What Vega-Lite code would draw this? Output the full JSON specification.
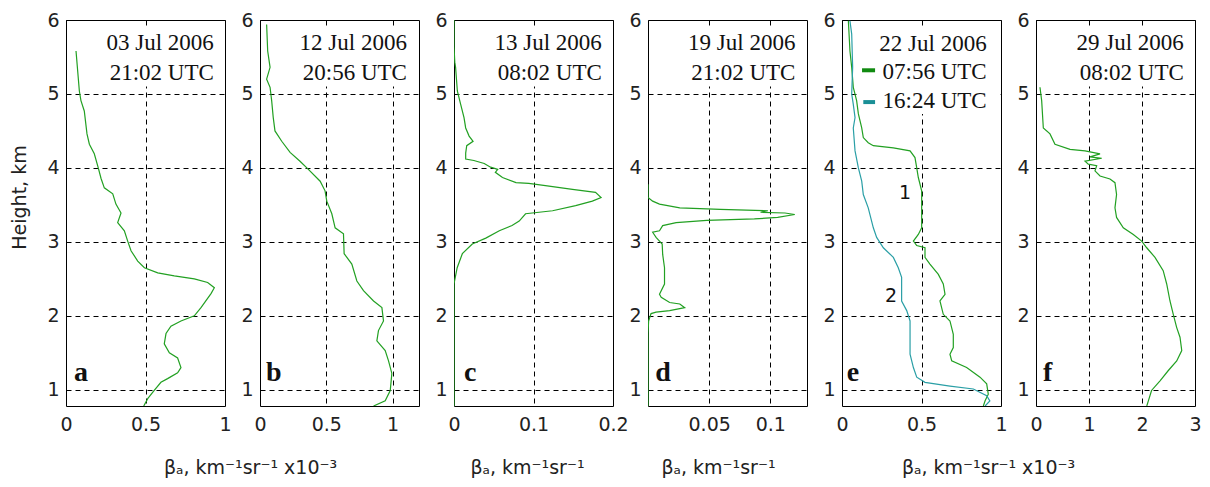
{
"$schema": "https://vega.github.io/schema/vega-lite/v6.json",
"padding": {"left": 9, "top": 10, "right": 5, "bottom": 5},
"background": "white",
"data": {"values": [
{"p":"a","s":"g","x":0.063,"h":5.58},{"p":"a","s":"g","x":0.084,"h":5.04},{"p":"a","s":"g","x":0.094,"h":4.91},{"p":"a","s":"g","x":0.115,"h":4.77},{"p":"a","s":"g","x":0.132,"h":4.46},{"p":"a","s":"g","x":0.147,"h":4.32},{"p":"a","s":"g","x":0.178,"h":4.19},{"p":"a","s":"g","x":0.203,"h":4.0},{"p":"a","s":"g","x":0.22,"h":3.86},{"p":"a","s":"g","x":0.241,"h":3.73},{"p":"a","s":"g","x":0.294,"h":3.65},{"p":"a","s":"g","x":0.314,"h":3.51},{"p":"a","s":"g","x":0.346,"h":3.39},{"p":"a","s":"g","x":0.325,"h":3.26},{"p":"a","s":"g","x":0.367,"h":3.15},{"p":"a","s":"g","x":0.388,"h":3.01},{"p":"a","s":"g","x":0.409,"h":2.88},{"p":"a","s":"g","x":0.451,"h":2.74},{"p":"a","s":"g","x":0.493,"h":2.65},{"p":"a","s":"g","x":0.577,"h":2.58},{"p":"a","s":"g","x":0.681,"h":2.54},{"p":"a","s":"g","x":0.807,"h":2.5},{"p":"a","s":"g","x":0.891,"h":2.45},{"p":"a","s":"g","x":0.933,"h":2.38},{"p":"a","s":"g","x":0.912,"h":2.3},{"p":"a","s":"g","x":0.849,"h":2.11},{"p":"a","s":"g","x":0.807,"h":2.0},{"p":"a","s":"g","x":0.723,"h":1.93},{"p":"a","s":"g","x":0.66,"h":1.86},{"p":"a","s":"g","x":0.629,"h":1.76},{"p":"a","s":"g","x":0.618,"h":1.62},{"p":"a","s":"g","x":0.65,"h":1.5},{"p":"a","s":"g","x":0.702,"h":1.43},{"p":"a","s":"g","x":0.723,"h":1.3},{"p":"a","s":"g","x":0.702,"h":1.23},{"p":"a","s":"g","x":0.639,"h":1.15},{"p":"a","s":"g","x":0.597,"h":1.1},{"p":"a","s":"g","x":0.555,"h":0.99},{"p":"a","s":"g","x":0.514,"h":0.88},{"p":"a","s":"g","x":0.489,"h":0.78},
{"p":"b","s":"g","x":0.05,"h":5.94},{"p":"b","s":"g","x":0.058,"h":5.58},{"p":"b","s":"g","x":0.076,"h":5.36},{"p":"b","s":"g","x":0.05,"h":5.2},{"p":"b","s":"g","x":0.076,"h":5.09},{"p":"b","s":"g","x":0.088,"h":4.91},{"p":"b","s":"g","x":0.1,"h":4.68},{"p":"b","s":"g","x":0.113,"h":4.5},{"p":"b","s":"g","x":0.164,"h":4.36},{"p":"b","s":"g","x":0.227,"h":4.21},{"p":"b","s":"g","x":0.302,"h":4.09},{"p":"b","s":"g","x":0.365,"h":3.98},{"p":"b","s":"g","x":0.454,"h":3.82},{"p":"b","s":"g","x":0.491,"h":3.69},{"p":"b","s":"g","x":0.504,"h":3.55},{"p":"b","s":"g","x":0.542,"h":3.38},{"p":"b","s":"g","x":0.567,"h":3.19},{"p":"b","s":"g","x":0.63,"h":3.11},{"p":"b","s":"g","x":0.635,"h":2.84},{"p":"b","s":"g","x":0.693,"h":2.7},{"p":"b","s":"g","x":0.731,"h":2.47},{"p":"b","s":"g","x":0.781,"h":2.34},{"p":"b","s":"g","x":0.857,"h":2.2},{"p":"b","s":"g","x":0.92,"h":2.11},{"p":"b","s":"g","x":0.932,"h":1.93},{"p":"b","s":"g","x":0.894,"h":1.8},{"p":"b","s":"g","x":0.882,"h":1.66},{"p":"b","s":"g","x":0.945,"h":1.53},{"p":"b","s":"g","x":0.97,"h":1.39},{"p":"b","s":"g","x":0.995,"h":1.22},{"p":"b","s":"g","x":0.983,"h":0.99},{"p":"b","s":"g","x":0.945,"h":0.85},{"p":"b","s":"g","x":0.857,"h":0.78},
{"p":"c","s":"g","x":0,"h":6.0},{"p":"c","s":"g","x":0,"h":5.64},{"p":"c","s":"g","x":0.001,"h":5.43},{"p":"c","s":"g","x":0.002,"h":5.36},{"p":"c","s":"g","x":0.0042,"h":5.04},{"p":"c","s":"g","x":0.0084,"h":4.86},{"p":"c","s":"g","x":0.0126,"h":4.68},{"p":"c","s":"g","x":0.0147,"h":4.54},{"p":"c","s":"g","x":0.019,"h":4.43},{"p":"c","s":"g","x":0.024,"h":4.36},{"p":"c","s":"g","x":0.016,"h":4.3},{"p":"c","s":"g","x":0.0147,"h":4.2},{"p":"c","s":"g","x":0.0147,"h":4.12},{"p":"c","s":"g","x":0.025,"h":4.1},{"p":"c","s":"g","x":0.038,"h":4.06},{"p":"c","s":"g","x":0.046,"h":4.01},{"p":"c","s":"g","x":0.055,"h":3.98},{"p":"c","s":"g","x":0.052,"h":3.94},{"p":"c","s":"g","x":0.061,"h":3.87},{"p":"c","s":"g","x":0.078,"h":3.8},{"p":"c","s":"g","x":0.094,"h":3.79},{"p":"c","s":"g","x":0.115,"h":3.76},{"p":"c","s":"g","x":0.149,"h":3.71},{"p":"c","s":"g","x":0.178,"h":3.67},{"p":"c","s":"g","x":0.185,"h":3.6},{"p":"c","s":"g","x":0.174,"h":3.55},{"p":"c","s":"g","x":0.153,"h":3.49},{"p":"c","s":"g","x":0.124,"h":3.42},{"p":"c","s":"g","x":0.09,"h":3.38},{"p":"c","s":"g","x":0.082,"h":3.28},{"p":"c","s":"g","x":0.073,"h":3.22},{"p":"c","s":"g","x":0.057,"h":3.15},{"p":"c","s":"g","x":0.04,"h":3.05},{"p":"c","s":"g","x":0.023,"h":2.97},{"p":"c","s":"g","x":0.0105,"h":2.84},{"p":"c","s":"g","x":0.004,"h":2.65},{"p":"c","s":"g","x":0,"h":2.43},{"p":"c","s":"g","x":0,"h":0.78},
{"p":"d","s":"g","x":0,"h":3.78},{"p":"d","s":"g","x":0,"h":3.6},{"p":"d","s":"g","x":0.0038,"h":3.55},{"p":"d","s":"g","x":0.0094,"h":3.51},{"p":"d","s":"g","x":0.026,"h":3.46},{"p":"d","s":"g","x":0.059,"h":3.44},{"p":"d","s":"g","x":0.098,"h":3.42},{"p":"d","s":"g","x":0.092,"h":3.4},{"p":"d","s":"g","x":0.112,"h":3.39},{"p":"d","s":"g","x":0.12,"h":3.37},{"p":"d","s":"g","x":0.106,"h":3.33},{"p":"d","s":"g","x":0.087,"h":3.31},{"p":"d","s":"g","x":0.048,"h":3.29},{"p":"d","s":"g","x":0.023,"h":3.26},{"p":"d","s":"g","x":0.012,"h":3.22},{"p":"d","s":"g","x":0.0094,"h":3.15},{"p":"d","s":"g","x":0.0038,"h":3.13},{"p":"d","s":"g","x":0.0066,"h":3.06},{"p":"d","s":"g","x":0.0094,"h":3.01},{"p":"d","s":"g","x":0.0116,"h":2.97},{"p":"d","s":"g","x":0.012,"h":2.83},{"p":"d","s":"g","x":0.0135,"h":2.65},{"p":"d","s":"g","x":0.0135,"h":2.43},{"p":"d","s":"g","x":0.0094,"h":2.29},{"p":"d","s":"g","x":0.0108,"h":2.25},{"p":"d","s":"g","x":0.0177,"h":2.18},{"p":"d","s":"g","x":0.026,"h":2.16},{"p":"d","s":"g","x":0.03,"h":2.11},{"p":"d","s":"g","x":0.0177,"h":2.07},{"p":"d","s":"g","x":0.0066,"h":2.05},{"p":"d","s":"g","x":0.0025,"h":2.03},{"p":"d","s":"g","x":0.0005,"h":1.93},{"p":"d","s":"g","x":0,"h":1.76},{"p":"d","s":"g","x":0,"h":0.78},
{"p":"e","s":"07:56 UTC","x":0.04,"h":5.99},{"p":"e","s":"07:56 UTC","x":0.05,"h":5.58},{"p":"e","s":"07:56 UTC","x":0.061,"h":5.36},{"p":"e","s":"07:56 UTC","x":0.071,"h":5.09},{"p":"e","s":"07:56 UTC","x":0.092,"h":4.91},{"p":"e","s":"07:56 UTC","x":0.103,"h":4.73},{"p":"e","s":"07:56 UTC","x":0.124,"h":4.54},{"p":"e","s":"07:56 UTC","x":0.134,"h":4.41},{"p":"e","s":"07:56 UTC","x":0.165,"h":4.34},{"p":"e","s":"07:56 UTC","x":0.197,"h":4.3},{"p":"e","s":"07:56 UTC","x":0.323,"h":4.27},{"p":"e","s":"07:56 UTC","x":0.428,"h":4.23},{"p":"e","s":"07:56 UTC","x":0.459,"h":4.14},{"p":"e","s":"07:56 UTC","x":0.47,"h":4.0},{"p":"e","s":"07:56 UTC","x":0.48,"h":3.87},{"p":"e","s":"07:56 UTC","x":0.501,"h":3.69},{"p":"e","s":"07:56 UTC","x":0.501,"h":3.46},{"p":"e","s":"07:56 UTC","x":0.501,"h":3.19},{"p":"e","s":"07:56 UTC","x":0.48,"h":3.1},{"p":"e","s":"07:56 UTC","x":0.449,"h":3.01},{"p":"e","s":"07:56 UTC","x":0.47,"h":2.95},{"p":"e","s":"07:56 UTC","x":0.522,"h":2.92},{"p":"e","s":"07:56 UTC","x":0.522,"h":2.79},{"p":"e","s":"07:56 UTC","x":0.553,"h":2.7},{"p":"e","s":"07:56 UTC","x":0.606,"h":2.56},{"p":"e","s":"07:56 UTC","x":0.637,"h":2.43},{"p":"e","s":"07:56 UTC","x":0.648,"h":2.29},{"p":"e","s":"07:56 UTC","x":0.616,"h":2.2},{"p":"e","s":"07:56 UTC","x":0.637,"h":2.02},{"p":"e","s":"07:56 UTC","x":0.679,"h":1.93},{"p":"e","s":"07:56 UTC","x":0.7,"h":1.75},{"p":"e","s":"07:56 UTC","x":0.7,"h":1.57},{"p":"e","s":"07:56 UTC","x":0.679,"h":1.48},{"p":"e","s":"07:56 UTC","x":0.69,"h":1.39},{"p":"e","s":"07:56 UTC","x":0.784,"h":1.3},{"p":"e","s":"07:56 UTC","x":0.868,"h":1.17},{"p":"e","s":"07:56 UTC","x":0.91,"h":1.08},{"p":"e","s":"07:56 UTC","x":0.92,"h":0.94},{"p":"e","s":"07:56 UTC","x":0.9,"h":0.85},{"p":"e","s":"07:56 UTC","x":0.889,"h":0.78},
{"p":"e","s":"16:24 UTC","x":0.05,"h":5.99},{"p":"e","s":"16:24 UTC","x":0.061,"h":5.81},{"p":"e","s":"16:24 UTC","x":0.067,"h":5.36},{"p":"e","s":"16:24 UTC","x":0.061,"h":5.0},{"p":"e","s":"16:24 UTC","x":0.071,"h":4.86},{"p":"e","s":"16:24 UTC","x":0.082,"h":4.68},{"p":"e","s":"16:24 UTC","x":0.071,"h":4.54},{"p":"e","s":"16:24 UTC","x":0.082,"h":4.23},{"p":"e","s":"16:24 UTC","x":0.103,"h":4.0},{"p":"e","s":"16:24 UTC","x":0.124,"h":3.82},{"p":"e","s":"16:24 UTC","x":0.134,"h":3.64},{"p":"e","s":"16:24 UTC","x":0.165,"h":3.46},{"p":"e","s":"16:24 UTC","x":0.197,"h":3.19},{"p":"e","s":"16:24 UTC","x":0.218,"h":3.06},{"p":"e","s":"16:24 UTC","x":0.26,"h":2.92},{"p":"e","s":"16:24 UTC","x":0.323,"h":2.79},{"p":"e","s":"16:24 UTC","x":0.354,"h":2.65},{"p":"e","s":"16:24 UTC","x":0.375,"h":2.52},{"p":"e","s":"16:24 UTC","x":0.375,"h":2.2},{"p":"e","s":"16:24 UTC","x":0.407,"h":2.07},{"p":"e","s":"16:24 UTC","x":0.428,"h":1.93},{"p":"e","s":"16:24 UTC","x":0.428,"h":1.71},{"p":"e","s":"16:24 UTC","x":0.428,"h":1.48},{"p":"e","s":"16:24 UTC","x":0.449,"h":1.3},{"p":"e","s":"16:24 UTC","x":0.47,"h":1.17},{"p":"e","s":"16:24 UTC","x":0.522,"h":1.1},{"p":"e","s":"16:24 UTC","x":0.679,"h":1.05},{"p":"e","s":"16:24 UTC","x":0.826,"h":1.01},{"p":"e","s":"16:24 UTC","x":0.91,"h":0.92},{"p":"e","s":"16:24 UTC","x":0.93,"h":0.85},{"p":"e","s":"16:24 UTC","x":0.9,"h":0.78},
{"p":"f","s":"g","x":0.075,"h":5.09},{"p":"f","s":"g","x":0.107,"h":4.91},{"p":"f","s":"g","x":0.138,"h":4.54},{"p":"f","s":"g","x":0.264,"h":4.46},{"p":"f","s":"g","x":0.358,"h":4.32},{"p":"f","s":"g","x":0.642,"h":4.25},{"p":"f","s":"g","x":0.925,"h":4.23},{"p":"f","s":"g","x":1.208,"h":4.19},{"p":"f","s":"g","x":1.019,"h":4.15},{"p":"f","s":"g","x":1.24,"h":4.13},{"p":"f","s":"g","x":0.925,"h":4.09},{"p":"f","s":"g","x":0.987,"h":4.05},{"p":"f","s":"g","x":1.145,"h":4.03},{"p":"f","s":"g","x":1.113,"h":3.96},{"p":"f","s":"g","x":1.208,"h":3.89},{"p":"f","s":"g","x":1.396,"h":3.85},{"p":"f","s":"g","x":1.49,"h":3.8},{"p":"f","s":"g","x":1.52,"h":3.64},{"p":"f","s":"g","x":1.49,"h":3.46},{"p":"f","s":"g","x":1.52,"h":3.33},{"p":"f","s":"g","x":1.647,"h":3.19},{"p":"f","s":"g","x":1.836,"h":3.1},{"p":"f","s":"g","x":1.994,"h":3.01},{"p":"f","s":"g","x":2.089,"h":2.92},{"p":"f","s":"g","x":2.245,"h":2.79},{"p":"f","s":"g","x":2.4,"h":2.61},{"p":"f","s":"g","x":2.466,"h":2.43},{"p":"f","s":"g","x":2.528,"h":2.2},{"p":"f","s":"g","x":2.59,"h":2.02},{"p":"f","s":"g","x":2.655,"h":1.84},{"p":"f","s":"g","x":2.717,"h":1.71},{"p":"f","s":"g","x":2.75,"h":1.53},{"p":"f","s":"g","x":2.655,"h":1.39},{"p":"f","s":"g","x":2.497,"h":1.26},{"p":"f","s":"g","x":2.34,"h":1.12},{"p":"f","s":"g","x":2.18,"h":0.99},{"p":"f","s":"g","x":2.12,"h":0.85},{"p":"f","s":"g","x":2.09,"h":0.78}
]},
"hconcat": [
{"width": 159, "height": 386,
 "transform": [{"filter": "datum.p === 'a'"}],
 "layer": [
  {"data": {"values": [{}]}, "mark": {"type": "rect", "color": "white"}, "encoding": {"x": {"datum": 0.22}, "x2": {"datum": 0.995}, "y": {"datum": 5.92}, "y2": {"datum": 5.1}}},
  {"mark": {"type": "line", "color": "#22a022", "strokeWidth": 1.2, "clip": true},
   "encoding": {
    "x": {"field": "x", "type": "quantitative", "scale": {"domain": [0, 1], "nice": false, "zero": false}, "axis": {"values": [0, 0.5, 1], "format": "~g", "title": "βₐ, km⁻¹sr⁻¹ x10⁻³", "titleX": 184, "titleY": 67, "titleBaseline": "alphabetic", "titleAlign": "center"}},
    "y": {"field": "h", "type": "quantitative", "scale": {"domain": [0.78, 6], "nice": false, "zero": false}, "axis": {"values": [1, 2, 3, 4, 5, 6], "format": "~g", "title": "Height, km", "titleX": -47, "titleY": 177, "titleBaseline": "middle", "titleAlign": "center", "titleAngle": -90}},
    "order": {"field": "h"}}},
  {"data": {"values": [{}]}, "mark": {"type": "text", "font": "Liberation Serif", "fontSize": 23, "align": "right", "baseline": "alphabetic", "color": "#111"}, "encoding": {"x": {"datum": 0.93}, "y": {"datum": 5.59}, "text": {"value": "03 Jul 2006"}}},
  {"data": {"values": [{}]}, "mark": {"type": "text", "font": "Liberation Serif", "fontSize": 23, "align": "right", "baseline": "alphabetic", "color": "#111"}, "encoding": {"x": {"datum": 0.93}, "y": {"datum": 5.19}, "text": {"value": "21:02 UTC"}}},
  {"data": {"values": [{}]}, "mark": {"type": "text", "font": "Liberation Serif", "fontSize": 28, "fontWeight": "bold", "align": "left", "baseline": "alphabetic", "color": "#111"}, "encoding": {"x": {"datum": 0.05}, "y": {"datum": 1.12}, "text": {"value": "a"}}}
 ]},
{"width": 159, "height": 386,
 "transform": [{"filter": "datum.p === 'b'"}],
 "layer": [
  {"data": {"values": [{}]}, "mark": {"type": "rect", "color": "white"}, "encoding": {"x": {"datum": 0.25}, "x2": {"datum": 1.195}, "y": {"datum": 5.92}, "y2": {"datum": 5.1}}},
  {"mark": {"type": "line", "color": "#22a022", "strokeWidth": 1.2, "clip": true},
   "encoding": {
    "x": {"field": "x", "type": "quantitative", "scale": {"domain": [0, 1.2], "nice": false, "zero": false}, "axis": {"values": [0, 0.5, 1], "format": "~g", "title": null}},
    "y": {"field": "h", "type": "quantitative", "scale": {"domain": [0.78, 6], "nice": false, "zero": false}, "axis": {"values": [1, 2, 3, 4, 5, 6], "format": "~g", "title": null}},
    "order": {"field": "h"}}},
  {"data": {"values": [{}]}, "mark": {"type": "text", "font": "Liberation Serif", "fontSize": 23, "align": "right", "baseline": "alphabetic", "color": "#111"}, "encoding": {"x": {"datum": 1.109}, "y": {"datum": 5.59}, "text": {"value": "12 Jul 2006"}}},
  {"data": {"values": [{}]}, "mark": {"type": "text", "font": "Liberation Serif", "fontSize": 23, "align": "right", "baseline": "alphabetic", "color": "#111"}, "encoding": {"x": {"datum": 1.109}, "y": {"datum": 5.19}, "text": {"value": "20:56 UTC"}}},
  {"data": {"values": [{}]}, "mark": {"type": "text", "font": "Liberation Serif", "fontSize": 28, "fontWeight": "bold", "align": "left", "baseline": "alphabetic", "color": "#111"}, "encoding": {"x": {"datum": 0.045}, "y": {"datum": 1.12}, "text": {"value": "b"}}}
 ]},
{"width": 159, "height": 386,
 "transform": [{"filter": "datum.p === 'c'"}],
 "layer": [
  {"data": {"values": [{}]}, "mark": {"type": "rect", "color": "white"}, "encoding": {"x": {"datum": 0.044}, "x2": {"datum": 0.199}, "y": {"datum": 5.92}, "y2": {"datum": 5.1}}},
  {"mark": {"type": "line", "color": "#22a022", "strokeWidth": 1.2, "clip": true},
   "encoding": {
    "x": {"field": "x", "type": "quantitative", "scale": {"domain": [0, 0.2], "nice": false, "zero": false}, "axis": {"values": [0, 0.1, 0.2], "format": "~g", "title": "βₐ, km⁻¹sr⁻¹", "titleX": 73, "titleY": 67, "titleBaseline": "alphabetic", "titleAlign": "center"}},
    "y": {"field": "h", "type": "quantitative", "scale": {"domain": [0.78, 6], "nice": false, "zero": false}, "axis": {"values": [1, 2, 3, 4, 5, 6], "format": "~g", "title": null}},
    "order": {"field": "h"}}},
  {"data": {"values": [{}]}, "mark": {"type": "text", "font": "Liberation Serif", "fontSize": 23, "align": "right", "baseline": "alphabetic", "color": "#111"}, "encoding": {"x": {"datum": 0.186}, "y": {"datum": 5.59}, "text": {"value": "13 Jul 2006"}}},
  {"data": {"values": [{}]}, "mark": {"type": "text", "font": "Liberation Serif", "fontSize": 23, "align": "right", "baseline": "alphabetic", "color": "#111"}, "encoding": {"x": {"datum": 0.186}, "y": {"datum": 5.19}, "text": {"value": "08:02 UTC"}}},
  {"data": {"values": [{}]}, "mark": {"type": "text", "font": "Liberation Serif", "fontSize": 28, "fontWeight": "bold", "align": "left", "baseline": "alphabetic", "color": "#111"}, "encoding": {"x": {"datum": 0.0126}, "y": {"datum": 1.12}, "text": {"value": "c"}}}
 ]},
{"width": 159, "height": 386,
 "transform": [{"filter": "datum.p === 'd'"}],
 "layer": [
  {"data": {"values": [{}]}, "mark": {"type": "rect", "color": "white"}, "encoding": {"x": {"datum": 0.026}, "x2": {"datum": 0.1295}, "y": {"datum": 5.92}, "y2": {"datum": 5.1}}},
  {"mark": {"type": "line", "color": "#22a022", "strokeWidth": 1.2, "clip": true},
   "encoding": {
    "x": {"field": "x", "type": "quantitative", "scale": {"domain": [0, 0.13], "nice": false, "zero": false}, "axis": {"values": [0.05, 0.1], "format": "~g", "title": "βₐ, km⁻¹sr⁻¹", "titleX": 70, "titleY": 67, "titleBaseline": "alphabetic", "titleAlign": "center"}},
    "y": {"field": "h", "type": "quantitative", "scale": {"domain": [0.78, 6], "nice": false, "zero": false}, "axis": {"values": [1, 2, 3, 4, 5, 6], "format": "~g", "title": null}},
    "order": {"field": "h"}}},
  {"data": {"values": [{}]}, "mark": {"type": "text", "font": "Liberation Serif", "fontSize": 23, "align": "right", "baseline": "alphabetic", "color": "#111"}, "encoding": {"x": {"datum": 0.1205}, "y": {"datum": 5.59}, "text": {"value": "19 Jul 2006"}}},
  {"data": {"values": [{}]}, "mark": {"type": "text", "font": "Liberation Serif", "fontSize": 23, "align": "right", "baseline": "alphabetic", "color": "#111"}, "encoding": {"x": {"datum": 0.1205}, "y": {"datum": 5.19}, "text": {"value": "21:02 UTC"}}},
  {"data": {"values": [{}]}, "mark": {"type": "text", "font": "Liberation Serif", "fontSize": 28, "fontWeight": "bold", "align": "left", "baseline": "alphabetic", "color": "#111"}, "encoding": {"x": {"datum": 0.006}, "y": {"datum": 1.12}, "text": {"value": "d"}}}
 ]},
{"width": 159, "height": 386,
 "transform": [{"filter": "datum.p === 'e'"}],
 "layer": [
  {"data": {"values": [{}]}, "mark": {"type": "rect", "color": "white"}, "encoding": {"x": {"datum": 0.1}, "x2": {"datum": 0.995}, "y": {"datum": 5.92}, "y2": {"datum": 4.73}}},
  {"mark": {"type": "line", "strokeWidth": 1.2, "clip": true},
   "encoding": {
    "x": {"field": "x", "type": "quantitative", "scale": {"domain": [0, 1], "nice": false, "zero": false}, "axis": {"values": [0, 0.5, 1], "format": "~g", "title": "βₐ, km⁻¹sr⁻¹ x10⁻³", "titleX": 146, "titleY": 67, "titleBaseline": "alphabetic", "titleAlign": "center"}},
    "y": {"field": "h", "type": "quantitative", "scale": {"domain": [0.78, 6], "nice": false, "zero": false}, "axis": {"values": [1, 2, 3, 4, 5, 6], "format": "~g", "title": null}},
    "color": {"field": "s", "type": "nominal", "scale": {"domain": ["07:56 UTC", "16:24 UTC"], "range": ["#22a022", "#2a9fa6"]}, "legend": null},
    "order": {"field": "h"}}},
  {"data": {"values": [{}]}, "mark": {"type": "rule", "color": "#108a10", "strokeWidth": 4}, "encoding": {"x": {"datum": 0.126}, "x2": {"datum": 0.208}, "y": {"datum": 5.32}}},
  {"data": {"values": [{}]}, "mark": {"type": "rule", "color": "#1a8f96", "strokeWidth": 4}, "encoding": {"x": {"datum": 0.134}, "x2": {"datum": 0.208}, "y": {"datum": 4.89}}},
  {"data": {"values": [{}]}, "mark": {"type": "text", "font": "Liberation Serif", "fontSize": 23, "align": "right", "baseline": "alphabetic", "color": "#111"}, "encoding": {"x": {"datum": 0.91}, "y": {"datum": 5.58}, "text": {"value": "22 Jul 2006"}}},
  {"data": {"values": [{}]}, "mark": {"type": "text", "font": "Liberation Serif", "fontSize": 23, "align": "right", "baseline": "alphabetic", "color": "#111"}, "encoding": {"x": {"datum": 0.91}, "y": {"datum": 5.2}, "text": {"value": "07:56 UTC"}}},
  {"data": {"values": [{}]}, "mark": {"type": "text", "font": "Liberation Serif", "fontSize": 23, "align": "right", "baseline": "alphabetic", "color": "#111"}, "encoding": {"x": {"datum": 0.91}, "y": {"datum": 4.81}, "text": {"value": "16:24 UTC"}}},
  {"data": {"values": [{}]}, "mark": {"type": "text", "font": "DejaVu Sans", "fontSize": 19, "align": "center", "baseline": "alphabetic", "color": "#111"}, "encoding": {"x": {"datum": 0.396}, "y": {"datum": 3.58}, "text": {"value": "1"}}},
  {"data": {"values": [{}]}, "mark": {"type": "text", "font": "DejaVu Sans", "fontSize": 19, "align": "center", "baseline": "alphabetic", "color": "#111"}, "encoding": {"x": {"datum": 0.308}, "y": {"datum": 2.18}, "text": {"value": "2"}}},
  {"data": {"values": [{}]}, "mark": {"type": "text", "font": "Liberation Serif", "fontSize": 28, "fontWeight": "bold", "align": "left", "baseline": "alphabetic", "color": "#111"}, "encoding": {"x": {"datum": 0.03}, "y": {"datum": 1.12}, "text": {"value": "e"}}}
 ]},
{"width": 159, "height": 386,
 "transform": [{"filter": "datum.p === 'f'"}],
 "layer": [
  {"data": {"values": [{}]}, "mark": {"type": "rect", "color": "white"}, "encoding": {"x": {"datum": 0.64}, "x2": {"datum": 2.99}, "y": {"datum": 5.92}, "y2": {"datum": 5.1}}},
  {"mark": {"type": "line", "color": "#22a022", "strokeWidth": 1.2, "clip": true},
   "encoding": {
    "x": {"field": "x", "type": "quantitative", "scale": {"domain": [0, 3], "nice": false, "zero": false}, "axis": {"values": [0, 1, 2, 3], "format": "~g", "title": null}},
    "y": {"field": "h", "type": "quantitative", "scale": {"domain": [0.78, 6], "nice": false, "zero": false}, "axis": {"values": [1, 2, 3, 4, 5, 6], "format": "~g", "title": null}},
    "order": {"field": "h"}}},
  {"data": {"values": [{}]}, "mark": {"type": "text", "font": "Liberation Serif", "fontSize": 23, "align": "right", "baseline": "alphabetic", "color": "#111"}, "encoding": {"x": {"datum": 2.79}, "y": {"datum": 5.59}, "text": {"value": "29 Jul 2006"}}},
  {"data": {"values": [{}]}, "mark": {"type": "text", "font": "Liberation Serif", "fontSize": 23, "align": "right", "baseline": "alphabetic", "color": "#111"}, "encoding": {"x": {"datum": 2.79}, "y": {"datum": 5.19}, "text": {"value": "08:02 UTC"}}},
  {"data": {"values": [{}]}, "mark": {"type": "text", "font": "Liberation Serif", "fontSize": 28, "fontWeight": "bold", "align": "left", "baseline": "alphabetic", "color": "#111"}, "encoding": {"x": {"datum": 0.13}, "y": {"datum": 1.12}, "text": {"value": "f"}}}
 ]}
],
"spacing": 35,
"bounds": "flush",
"config": {
 "view": {"stroke": "#000", "strokeWidth": 1},
 "axis": {"grid": true, "gridColor": "#000", "gridDash": [5, 4], "gridOpacity": 1, "gridWidth": 1, "ticks": false, "domain": false, "labelFont": "DejaVu Sans", "labelFontSize": 19, "labelColor": "#222", "titleFont": "DejaVu Sans", "titleFontSize": 19, "titleFontWeight": "normal", "titleColor": "#222", "labelFlush": false, "labelOverlap": false},
 "axisX": {"labelPadding": 9},
 "axisY": {"labelPadding": 7}
}
}
